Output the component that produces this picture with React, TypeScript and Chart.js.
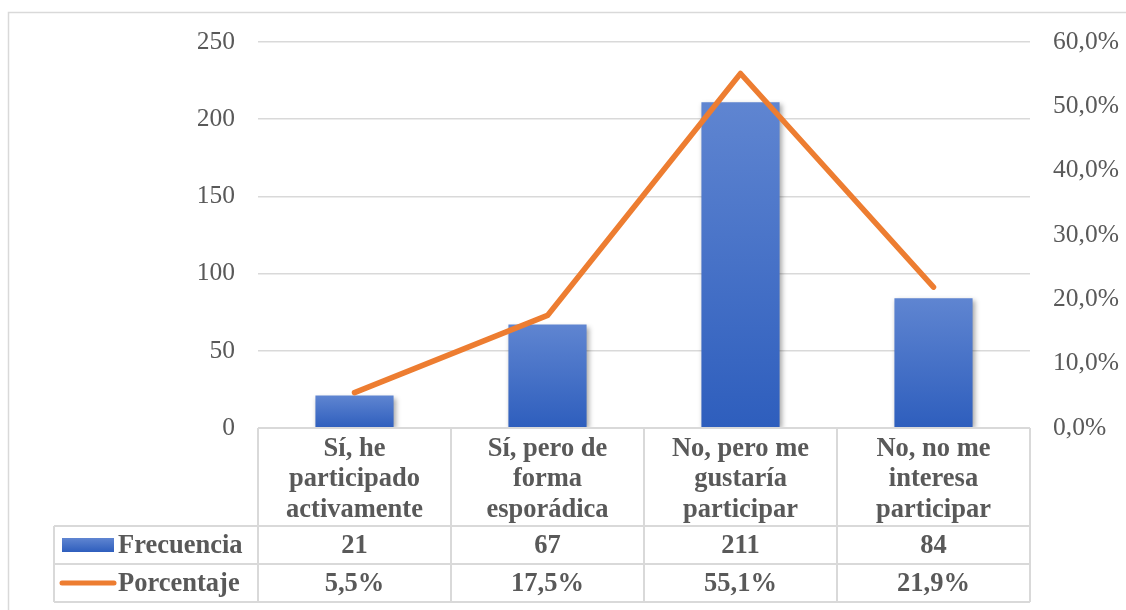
import React, { useEffect, useRef } from "react";
import { Chart, registerables } from "chart.js";

Chart.register(...registerables);

const categories: string[][] = [
  ["Sí, he", "participado", "activamente"],
  ["Sí, pero de", "forma", "esporádica"],
  ["No, pero me", "gustaría", "participar"],
  ["No, no me", "interesa", "participar"],
];
const frecuencia: number[] = [21, 67, 211, 84];
const porcentaje: number[] = [5.5, 17.5, 55.1, 21.9];
const seriesNames: string[] = ["Frecuencia", "Porcentaje"];

const GRAY = "#595959";
const LINE = "#d9d9d9";
const BLUE_TOP = "#5F85D1";
const BLUE_BOT = "#2E5EBD";
const ORANGE = "#ED7D31";
const SERIF = "'Liberation Serif', 'Times New Roman', serif";

const fmtPct = (v: number) => v.toFixed(1).replace(".", ",") + "%";

const frame = {
  id: "frame",
  beforeDraw(chart: any) {
    const c = chart.ctx;
    c.save();
    c.strokeStyle = LINE;
    c.lineWidth = 1.5;
    c.strokeRect(8.5, 12.5, 1400, 800);
    c.restore();
  },
};

const barShadow = {
  id: "barShadow",
  beforeDatasetDraw(chart: any, args: any) {
    if (args.index === 1) {
      const c = chart.ctx;
      c.save();
      c.shadowColor = "rgba(0,0,0,0.35)";
      c.shadowBlur = 5;
      c.shadowOffsetX = 2;
      c.shadowOffsetY = 2;
    }
  },
  afterDatasetDraw(chart: any, args: any) {
    if (args.index === 1) chart.ctx.restore();
  },
};

const dataTable = {
  id: "dataTable",
  afterDraw(chart: any) {
    const c = chart.ctx;
    const xs = chart.scales.x;
    const area = chart.chartArea;
    const n = categories.length;
    const colW = (area.right - area.left) / n;
    const top = area.bottom;
    const r1 = top + 98;
    const r2 = r1 + 38;
    const r3 = r2 + 38;
    const legL = 54;
    c.save();
    c.strokeStyle = LINE;
    c.lineWidth = 2;
    c.beginPath();
    c.moveTo(area.left, top);
    c.lineTo(area.right, top);
    [r1, r2, r3].forEach((y) => {
      c.moveTo(legL, y);
      c.lineTo(area.right, y);
    });
    for (let i = 0; i <= n; i++) {
      const x = area.left + i * colW;
      c.moveTo(x, top);
      c.lineTo(x, r3);
    }
    c.moveTo(legL, r1);
    c.lineTo(legL, r3);
    c.stroke();

    c.fillStyle = GRAY;
    c.font = `bold 26.5px ${SERIF}`;
    c.textAlign = "center";
    c.textBaseline = "middle";
    categories.forEach((lines, i) => {
      const cx = xs.getPixelForValue(i);
      lines.forEach((ln, j) => {
        c.fillText(ln, cx, top + 21 + j * 30.5);
      });
      c.fillText(String(frecuencia[i]), cx, (r1 + r2) / 2 + 1);
      c.fillText(fmtPct(porcentaje[i]), cx, (r2 + r3) / 2 + 1);
    });

    const g = c.createLinearGradient(0, r1 + 12, 0, r1 + 26);
    g.addColorStop(0, BLUE_TOP);
    g.addColorStop(1, BLUE_BOT);
    c.fillStyle = g;
    c.fillRect(62, r1 + 12, 52, 14);
    c.strokeStyle = ORANGE;
    c.lineWidth = 5;
    c.lineCap = "round";
    c.beginPath();
    c.moveTo(62, (r2 + r3) / 2);
    c.lineTo(114, (r2 + r3) / 2);
    c.stroke();

    c.fillStyle = GRAY;
    c.textAlign = "left";
    c.fillText(seriesNames[0], 118, (r1 + r2) / 2 + 1);
    c.fillText(seriesNames[1], 118, (r2 + r3) / 2 + 1);
    c.restore();
  },
};

export default function App() {
  const ref = useRef<HTMLCanvasElement | null>(null);

  useEffect(() => {
    if (!ref.current) return;
    const chart = new Chart(ref.current, {
      type: "bar",
      data: {
        labels: categories.map((l) => l.join(" ")),
        datasets: [
          {
            type: "line",
            label: seriesNames[1],
            data: porcentaje,
            yAxisID: "y1",
            borderColor: ORANGE,
            borderWidth: 5.5,
            borderCapStyle: "round",
            borderJoinStyle: "round",
            pointRadius: 0,
            tension: 0,
            order: 1,
          } as any,
          {
            type: "bar",
            label: seriesNames[0],
            data: frecuencia,
            yAxisID: "y",
            order: 2,
            barPercentage: 0.405,
            categoryPercentage: 1,
            backgroundColor: (ctx: any) => {
              const ys = ctx.chart.scales.y;
              if (!ys || ctx.raw == null) return BLUE_BOT;
              const y0 = ys.getPixelForValue(ctx.raw);
              const y1 = ys.getPixelForValue(0);
              if (!isFinite(y0) || !isFinite(y1) || y0 === y1) return BLUE_BOT;
              const g = ctx.chart.ctx.createLinearGradient(0, y0, 0, y1);
              g.addColorStop(0, BLUE_TOP);
              g.addColorStop(1, BLUE_BOT);
              return g;
            },
          } as any,
        ],
      },
      options: {
        animation: false,
        responsive: true,
        maintainAspectRatio: false,
        layout: { padding: { left: 198, right: 6, top: 42, bottom: 182 } },
        plugins: { legend: { display: false }, tooltip: { enabled: false } },
        scales: {
          x: { display: false, offset: true },
          y: {
            position: "left",
            min: 0,
            max: 250,
            ticks: {
              stepSize: 50,
              padding: 23,
              color: GRAY,
              font: { family: SERIF, size: 25.5 },
            },
            grid: { color: LINE, lineWidth: 1.5, drawTicks: false },
            border: { display: false },
            afterFit: (s: any) => {
              s.width = 60;
            },
          },
          y1: {
            position: "right",
            min: 0,
            max: 60,
            ticks: {
              stepSize: 10,
              padding: 23,
              color: GRAY,
              font: { family: SERIF, size: 25.5 },
              callback: (v: any) => fmtPct(Number(v)),
            },
            grid: { drawOnChartArea: false, drawTicks: false },
            border: { display: false },
            afterFit: (s: any) => {
              s.width = 90;
            },
          },
        },
      },
      plugins: [frame, barShadow, dataTable],
    });
    return () => chart.destroy();
  }, []);

  return (
    <div style={{ position: "fixed", left: 0, top: 0, width: 1126, height: 610, background: "#fff" }}>
      <canvas ref={ref} />
    </div>
  );
}
